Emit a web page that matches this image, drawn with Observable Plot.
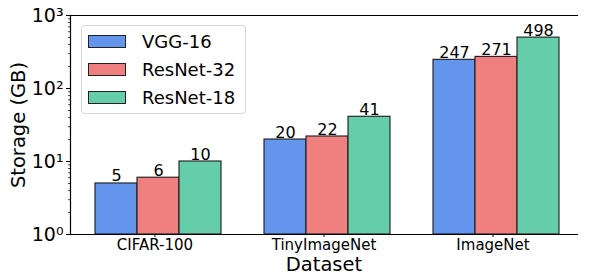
<!DOCTYPE html>
<html><head><meta charset="utf-8">
<script src="https://cdn.jsdelivr.net/npm/d3@7"></script>
<script src="https://cdn.jsdelivr.net/npm/@observablehq/plot@0.6"></script>
<style>
body{margin:0;background:#fff;font-family:"DejaVu Sans",sans-serif;}
#wrap{position:relative;width:589px;height:275px;}
.legend{position:absolute;left:81px;top:25px;width:165px;height:89px;border:1px solid #d6d6d6;border-radius:4px;background:rgba(255,255,255,0.8);box-sizing:border-box;}
.row{position:absolute;left:6px;height:24px;display:flex;align-items:center;}
.sw{width:38px;height:13px;border:1px solid #222;box-sizing:border-box;margin-right:16px;}
.row span{font-size:18px;color:#000;}
</style></head><body><div id="wrap"></div>
<script>
const datasets = ["CIFAR-100", "TinyImageNet", "ImageNet"];
const models = ["VGG-16", "ResNet-32", "ResNet-18"];
const colors = ["#6495ED", "#F08080", "#66CDAA"];
const vgg16 = [5, 20, 247];
const resnet32 = [6, 22, 271];
const resnet18 = [10, 41, 498];
const yTicks = [1, 10, 100, 1000];
const yTickLabels = ["10⁰", "10¹", "10²", "10³"];
const yMinorTicks = [2,3,4,5,6,7,8,9,20,30,40,50,60,70,80,90,200,300,400,500,600,700,800,900];

const series = [vgg16, resnet32, resnet18];
const data = [];
datasets.forEach((ds, i) => models.forEach((m, j) => data.push({dataset: ds, model: m, value: series[j][i]})));

const chart = Plot.plot({
  width: 589, height: 275,
  marginTop: 15, marginBottom: 41, marginLeft: 70, marginRight: 0,
  style: {fontFamily: "DejaVu Sans", color: "#000", background: "#fff", overflow: "visible"},
  fx: {domain: datasets, paddingInner: 0, paddingOuter: 0.031, align: 0, label: null, axis: null},
  x: {domain: models, paddingInner: 0, paddingOuter: 0.494, align: 0.571, axis: null},
  y: {type: "log", domain: [1, 1000], axis: null},
  color: {domain: models, range: colors},
  marks: [
    Plot.barY(data, {fx: "dataset", x: "model", y1: 1, y2: "value", fill: "model", stroke: "#1a1a1a", strokeWidth: 1.1}),
    Plot.text(data, {fx: "dataset", x: "model", y: "value", text: d => String(d.value), lineAnchor: "bottom", dy: -2, fontSize: 16, fill: "#000"}),
    Plot.frame({facet: "super", anchor: "top", stroke: "#000", strokeWidth: 1.2}),
    Plot.frame({facet: "super", anchor: "bottom", stroke: "#000", strokeWidth: 1.2}),
    Plot.frame({facet: "super", anchor: "left", stroke: "#000", strokeWidth: 1.2}),
    Plot.axisY({ticks: yTicks, tickFormat: d => yTickLabels[yTicks.indexOf(d)], tickSize: 4, tickPadding: 3, fontSize: 19, label: null, strokeWidth: 1}),
    Plot.axisY({ticks: yMinorTicks, tickFormat: () => "", tickSize: 2, label: null, strokeWidth: 0.7}),
    Plot.axisFx({anchor: "bottom", tickSize: 3, tickPadding: 1.5, fontSize: 15, label: null}),
    Plot.text(["Dataset"], {facet: "super", frameAnchor: "bottom", dy: 36, fontSize: 19.5, fill: "#000"}),
    Plot.text(["Storage (GB)"], {facet: "super", frameAnchor: "left", textAnchor: "middle", dx: -52, rotate: -90, fontSize: 19.5, fill: "#000"})
  ]
});

const wrap = document.getElementById("wrap");
wrap.appendChild(chart);
const legend = document.createElement("div");
legend.className = "legend";
models.forEach((m, j) => {
  const row = document.createElement("div");
  row.className = "row";
  row.style.top = (3 + j * 28) + "px";
  const sw = document.createElement("div");
  sw.className = "sw";
  sw.style.background = colors[j];
  const t = document.createElement("span");
  t.textContent = m;
  row.appendChild(sw); row.appendChild(t);
  legend.appendChild(row);
});
wrap.appendChild(legend);
</script></body></html>
